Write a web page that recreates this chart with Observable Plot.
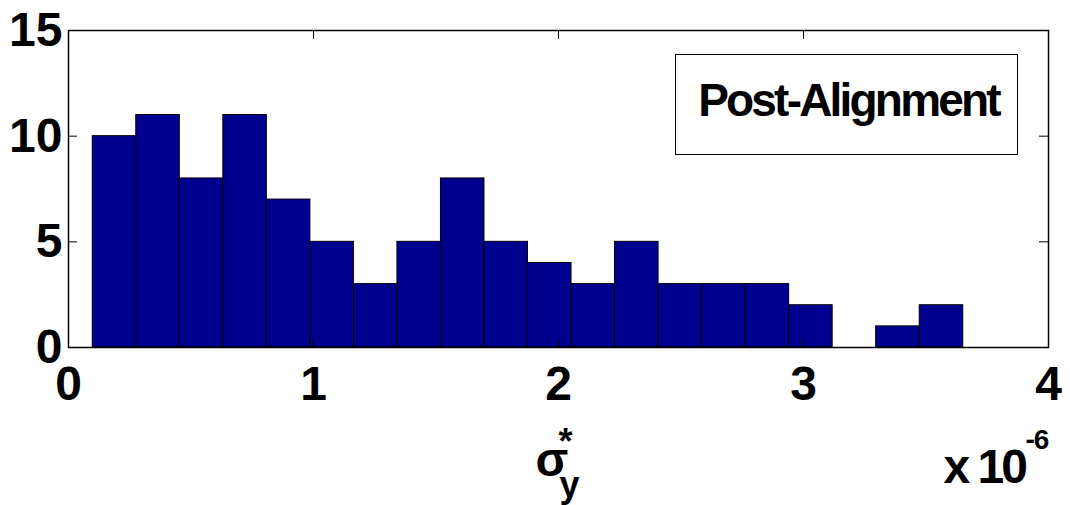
<!DOCTYPE html>
<html><head><meta charset="utf-8">
<script src="https://cdn.jsdelivr.net/npm/d3@7"></script>
<script src="https://cdn.jsdelivr.net/npm/@observablehq/plot@0.6"></script>
<style>
body{margin:0;background:#fff;}
</style></head><body><div id="chart"></div>
<script>
// Histogram counts (20 bins), x in units of 1e-6
const counts = [10,11,8,11,7,5,3,5,8,5,4,3,5,3,3,3,2,0,1,2];
const binStart = 0.099;
const binEnd = 3.652;
const xTicks = [0,1,2,3,4];
const yTicks = [0,5,10,15];
const legendLabel = ["Post-Alignment"];
const xLabelMain = ["σ"], xLabelSub = ["y"], xLabelSup = ["*"];
const expMain = ["x 10"], expSup = ["-6"];

const binW = (binEnd - binStart) / counts.length;
const bins = counts.map((c, i) => ({x1: binStart + i * binW, x2: binStart + (i + 1) * binW, count: c}));

const W = 1070, H = 505, mL = 68, mR = 22, mT = 30, mB = 158;
const innerW = W - mL - mR, innerH = H - mT - mB;
const tick = 9;
const font = "'Liberation Sans', Arial, Helvetica, sans-serif";
const T = d => d;
const lbl = (data, o) => Plot.text(data, {text: T, frameAnchor: "bottom-left", lineAnchor: "bottom", textAnchor: "start", fill: "#000", ...o});

const plot = Plot.plot({
  width: W, height: H, marginLeft: mL, marginRight: mR, marginTop: mT, marginBottom: mB,
  style: {fontFamily: font, fontWeight: "bold", background: "#fff", color: "#000", overflow: "visible"},
  x: {domain: [0, 4], label: null},
  y: {domain: [0, 15], label: null},
  marks: [
    Plot.rectY(bins, {x1: "x1", x2: "x2", y: "count", fill: "#00008F", stroke: "#000", strokeWidth: 1}),
    Plot.tickX(xTicks, {x: T, insetTop: innerH - tick, stroke: "#000"}),
    Plot.tickX(xTicks, {x: T, insetBottom: innerH - tick, stroke: "#000"}),
    Plot.tickY(yTicks, {y: T, insetRight: innerW - tick, stroke: "#000"}),
    Plot.tickY(yTicks, {y: T, insetLeft: innerW - tick, stroke: "#000"}),
    Plot.frame({stroke: "#000", strokeWidth: 1.5}),
    Plot.axisX({ticks: xTicks, tickSize: 0, tickPadding: 18, fontSize: 48, label: null, tickFormat: d => String(d)}),
    Plot.axisY({ticks: yTicks, tickSize: 0, tickPadding: 6, fontSize: 48, label: null}),
    // legend box
    Plot.frame({insetLeft: 607, insetRight: 31, insetTop: 24, insetBottom: 193, fill: "#fff", stroke: "#000", strokeWidth: 1}),
    Plot.text(legendLabel, {text: T, frameAnchor: "top-left", lineAnchor: "bottom", dx: 780, dy: 85, fontSize: 46, textAnchor: "middle", fill: "#000"}),
    // x label sigma*_y
    lbl(xLabelMain, {dx: 467, dy: 128, fontSize: 48}),
    lbl(xLabelSub, {dx: 491, dy: 149, fontSize: 36}),
    lbl(xLabelSup, {dx: 490, dy: 106, fontSize: 36}),
    // exponent
    lbl(expMain, {dx: 875, dy: 135, fontSize: 48}),
    lbl(expSup, {dx: 957, dy: 101, fontSize: 28})
  ]
});
// tighten letter spacing of the condensed-looking labels
const spacing = new Map([[legendLabel[0], "-2.8px"], [expMain[0], "-3px"], [expSup[0], "-1px"]]);
d3.select(plot).selectAll("text").each(function() {
  const s = spacing.get(this.textContent);
  if (s) this.style.letterSpacing = s;
});
document.getElementById("chart").appendChild(plot);
</script></body></html>
